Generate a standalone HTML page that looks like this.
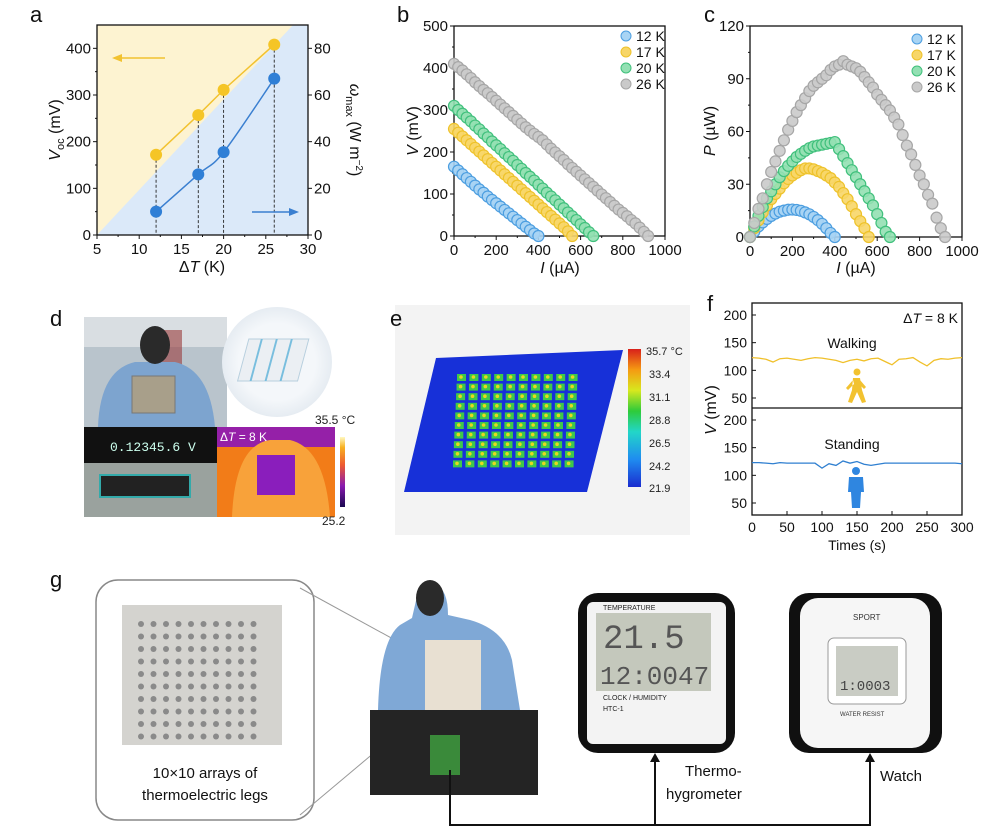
<!DOCTYPE html>
<html><head><meta charset="utf-8">
<style>
body{margin:0;background:#fff;}
svg{display:block;font-family:"Liberation Sans",sans-serif;}
</style></head>
<body>
<svg id="fig" width="1000" height="828" viewBox="0 0 1000 828" xmlns="http://www.w3.org/2000/svg">
<defs>
<linearGradient id="cbE" x1="0" y1="1" x2="0" y2="0">
<stop offset="0" stop-color="#1a2ccf"/><stop offset="0.2" stop-color="#1f8cf0"/><stop offset="0.4" stop-color="#22d6c8"/><stop offset="0.55" stop-color="#2ecb3a"/><stop offset="0.7" stop-color="#d8e81e"/><stop offset="0.85" stop-color="#f59a12"/><stop offset="1" stop-color="#d8201a"/>
</linearGradient>
<linearGradient id="cbD" x1="0" y1="1" x2="0" y2="0">
<stop offset="0" stop-color="#1a0850"/><stop offset="0.3" stop-color="#8a1ab0"/><stop offset="0.6" stop-color="#ee5a30"/><stop offset="0.85" stop-color="#f8b020"/><stop offset="1" stop-color="#fff8c0"/>
</linearGradient>
<radialGradient id="circ" cx="0.5" cy="0.5" r="0.5"><stop offset="0.7" stop-color="#f4f7fa"/><stop offset="1" stop-color="#e6ecf2"/></radialGradient>
</defs>

<g id="pa"></g>
<g id="pb"></g>
<g id="pc"></g>

<!-- panel d photo collage -->
<g>
<rect x="84" y="317" width="143" height="110" fill="#b9c4cc"/>
<rect x="84" y="317" width="143" height="30" fill="#d9dee2"/>
<rect x="160" y="330" width="22" height="60" fill="#9a3a3a" opacity="0.6"/>
<path d="M98 427 Q100 370 135 362 L175 362 Q210 370 215 427 Z" fill="#7da4cf"/>
<ellipse cx="155" cy="345" rx="15" ry="19" fill="#2a2a2a"/>
<rect x="132" y="376" width="43" height="37" fill="#a89f8a" stroke="#777" stroke-width="1"/>
<circle cx="277" cy="362" r="55" fill="url(#circ)"/>
<g transform="translate(277,357) skewX(-15)" opacity="0.8">
<rect x="-33" y="-18" width="60" height="42" fill="#e9eef2" stroke="#a9c6d8"/>
<line x1="-20" y1="-18" x2="-20" y2="24" stroke="#5ab0d8" stroke-width="2"/>
<line x1="-5" y1="-18" x2="-5" y2="24" stroke="#5ab0d8" stroke-width="2"/>
<line x1="10" y1="-18" x2="10" y2="24" stroke="#5ab0d8" stroke-width="2"/>
</g>
<rect x="84" y="427" width="133" height="36" fill="#111"/>
<text x="110" y="451" font-size="13" fill="#cfe" font-family="Liberation Mono,monospace">0.12345.6 V</text>
<rect x="84" y="463" width="133" height="54" fill="#9aa29e"/>
<rect x="100" y="475" width="90" height="22" fill="#222" stroke="#3aa" stroke-width="2"/>
<rect x="217" y="427" width="118" height="90" fill="#f27c18"/>
<rect x="217" y="427" width="118" height="20" fill="#9520a8"/>
<path d="M232 517 Q235 445 270 440 L290 440 Q325 448 330 517 Z" fill="#f8a23a"/>
<rect x="257" y="455" width="38" height="40" fill="#8a1ebc"/>
<text x="220" y="441" font-size="12" fill="#fff">Δ<tspan font-style="italic">T</tspan> = 8 K</text>
<rect x="340" y="437" width="5" height="70" fill="url(#cbD)"/>
<text x="315" y="424" font-size="12" fill="#222">35.5 °C</text>
<text x="322" y="525" font-size="12" fill="#222">25.2</text>
</g>

<!-- panel e simulation -->
<g>
<rect x="395" y="305" width="295" height="230" fill="#f3f3f3"/>
<polygon points="436,358 623,350 587,492 404,492" fill="#1730d8"/>
<g id="grid-e"></g>
<rect x="628" y="349" width="13" height="138" fill="url(#cbE)"/>
<g font-size="11" fill="#222">
<text x="646" y="355">35.7 °C</text><text x="649" y="378">33.4</text><text x="649" y="401">31.1</text><text x="649" y="424">28.8</text><text x="649" y="447">26.5</text><text x="649" y="470">24.2</text><text x="649" y="492">21.9</text>
</g>
</g>

<g id="pf"></g>

<!-- panel g -->
<g>
<rect x="96" y="580" width="218" height="240" rx="22" fill="#fff" stroke="#888" stroke-width="1.5"/>
<line x1="300" y1="588" x2="395" y2="640" stroke="#999"/>
<line x1="300" y1="815" x2="425" y2="710" stroke="#999"/>
<rect x="122" y="605" width="160" height="140" fill="#d4d3cf"/>
<g id="grid-g"></g>
<text x="205" y="778" font-size="15" text-anchor="middle" fill="#111">10×10 arrays of</text>
<text x="205" y="800" font-size="15" text-anchor="middle" fill="#111">thermoelectric legs</text>
<rect x="370" y="710" width="168" height="85" fill="#242424"/>
<path d="M378 710 Q380 640 400 625 L412 618 L418 592 L436 585 Q448 590 448 615 L470 620 Q505 630 512 660 L520 710 Z" fill="#7fa8d6"/>
<ellipse cx="430" cy="598" rx="14" ry="18" fill="#2a2a2a"/>
<rect x="425" y="640" width="56" height="70" fill="#e8e0d2"/>
<rect x="430" y="735" width="30" height="40" fill="#3a8a3a"/>
<rect x="578" y="593" width="157" height="160" rx="20" fill="#101010"/>
<rect x="587" y="602" width="139" height="142" rx="6" fill="#f3f3f3"/>
<rect x="596" y="613" width="115" height="78" fill="#c4c8bc"/>
<text x="603" y="648" font-size="34" fill="#555" font-family="Liberation Mono,monospace">21.5</text>
<text x="600" y="684" font-size="26" fill="#555" font-family="Liberation Mono,monospace">12:0047</text>
<text x="603" y="610" font-size="7" fill="#222">TEMPERATURE</text>
<text x="603" y="700" font-size="7" fill="#222">CLOCK / HUMIDITY</text>
<text x="603" y="711" font-size="7" fill="#222">HTC-1</text>
<rect x="789" y="593" width="153" height="160" rx="20" fill="#101010"/>
<rect x="800" y="598" width="130" height="150" rx="18" fill="#f6f6f6"/>
<rect x="828" y="638" width="78" height="66" rx="6" fill="#fff" stroke="#999"/>
<rect x="836" y="646" width="62" height="50" fill="#c9ccc4"/>
<text x="840" y="690" font-size="14" fill="#444" font-family="Liberation Mono,monospace">1:0003</text>
<text x="853" y="620" font-size="8" fill="#333">SPORT</text>
<text x="840" y="716" font-size="6" fill="#333">WATER RESIST</text>
<path d="M450 770 L450 825 L870 825 L870 756 M655 825 L655 756" fill="none" stroke="#111" stroke-width="2"/>
<path d="M650 762 L655 753 L660 762 Z M865 762 L870 753 L875 762 Z" fill="#111"/>
<text x="685" y="776" font-size="15" fill="#111">Thermo-</text>
<text x="666" y="799" font-size="15" fill="#111">hygrometer</text>
<text x="880" y="781" font-size="15" fill="#111">Watch</text>
</g>

<!-- panel labels (on top) -->
<g font-size="22" fill="#111">
<text x="30" y="22">a</text>
<text x="397" y="22">b</text>
<text x="704" y="22">c</text>
<text x="50" y="326">d</text>
<text x="390" y="326">e</text>
<text x="707" y="311">f</text>
<text x="50" y="587">g</text>
</g>

</svg>
<script>
// ---------- data ----------
const dT = [12, 17, 20, 26];
const vocA = [172, 257, 311, 408];
const omegaA = [10, 26, 35.5, 67];

const ivStep = 20;
const v12 = [165,156,147,138,129,120,111,103,94,86,78,70,62,54,46,38,30,22,14,6,0];
const v17 = [255,246,237,228,219,210,201,192,183,174,165,156,147,138,129,120,111,102,93,84,75,66,57,48,39,30,21,11,0];
const v20 = [310,300,291,282,273,263,254,244,235,225,216,207,197,188,179,169,160,150,141,132,122,113,103,94,85,75,66,56,47,38,28,19,9,0];
const v26 = [410,402,394,385,376,366,357,348,340,331,322,313,304,295,286,277,268,259,251,243,236,228,218,208,199,190,181,171,162,153,144,135,126,117,108,99,90,81,72,63,55,47,38,30,20,10,0];
const p12 = [0,3,6,8.3,10.3,12,13.3,14.4,15,15.5,15.6,15.4,14.9,14,12.9,11.4,9.6,7.5,5,2.3,0];
const p17 = [0,5,9.5,14,18,21.5,24.5,27.5,30.5,33,35,36.5,38,39,39,38.5,37.5,36.5,35,33.5,31,28.5,25,21.5,17.5,13,9,5,0];
const p20 = [0,6,12,17,22,26,30,34,37.5,40.5,43,45.5,47.3,49,50.5,51.5,52,52.5,53,53.5,54,50,46,42,38,34,30,26,22,18,13,8,3,0];
const p26 = [0,8,16,22,30,37,43,49,55,61,66,71,75,79,83,86,88,90,92,95,97,98,100,98,97,96,94,91,88,85,81,78,75,72,68,64,58,52,47,41,35,30,24,19,11,5,0];
const legendLabels = ['12 K','17 K','20 K','26 K'];

const fStep = 10;
const walking = [123,122,120,115,121,122,120,118,121,123,122,120,118,114,118,120,117,121,122,116,110,120,121,123,115,108,118,121,120,122,123];
const standing = [123,123,122,121,123,122,122,122,122,122,113,121,118,126,122,125,120,118,120,122,122,122,122,122,122,122,122,122,122,122,121];

const NS = 'http://www.w3.org/2000/svg';
function mk(parent, tag, attrs, txt){
  const e = document.createElementNS(NS, tag);
  for (const k in attrs) e.setAttribute(k, attrs[k]);
  if (txt !== undefined) e.textContent = txt;
  parent.appendChild(e);
  return e;
}
function lin(d0,d1,r0,r1){return v=>r0+(v-d0)*(r1-r0)/(d1-d0);}

const fills = ['#a8d4f4','#f7d668','#93e0b3','#cacaca'];
const strokes = ['#4c9ee0','#eec22a','#40c07c','#a6a6a6'];

function axesFrame(g, x0,x1,y0,y1, xticks, xsc, yticks, ysc, minorX, minorY){
  const f = mk(g,'rect',{x:x0,y:y1,width:x1-x0,height:y0-y1,fill:'none',stroke:'#111','stroke-width':1.3});
  
  
  xticks.forEach(t=>{
    const x=xsc(t);
    mk(g,'line',{x1:x,x2:x,y1:y0,y2:y0+4,stroke:'#111'});
    const tl = mk(g,'text',{x:x,y:y0+19,'font-size':15,'text-anchor':'middle',fill:'#111'},t);
    
    
  });
  yticks.forEach(t=>{
    const y=ysc(t);
    mk(g,'line',{x1:x0,x2:x0-4,y1:y,y2:y,stroke:'#111'});
    const tl = mk(g,'text',{x:x0-6,y:y+5,'font-size':15,'text-anchor':'end',fill:'#111'},t);
    
    
  });
  (minorX||[]).forEach(t=>{const x=xsc(t);mk(g,'line',{x1:x,x2:x,y1:y0,y2:y0+2,stroke:'#111'});});
  (minorY||[]).forEach(t=>{const y=ysc(t);mk(g,'line',{x1:x0,x2:x0-2,y1:y,y2:y,stroke:'#111'});});
}

// ---------- panel a ----------
(function(){
  const g=document.getElementById('pa');
  const x0=97,x1=308,y0=235,y1=25;
  const xs=lin(5,30,x0,x1), ys=lin(0,450,y0,y1), ys2=lin(0,90,y0,y1);
  const bgY=mk(g,'rect',{x:x0,y:y1,width:x1-x0,height:y0-y1,fill:'#fdf3d1'});
  
  
  const bgB=mk(g,'polygon',{points:`${x0},${y0} ${x0+196},${y1} ${x1},${y1} ${x1},${y0}`,fill:'#dbe9f9'});
  
  
  axesFrame(g,x0,x1,y0,y1,[5,10,15,20,25,30],xs,[0,100,200,300,400],ys,[7.5,12.5,17.5,22.5,27.5],[50,150,250,350]);
  [0,20,40,60,80].forEach(t=>{const y=ys2(t);mk(g,'line',{x1:x1,x2:x1+4,y1:y,y2:y,stroke:'#111'});
    const tl=mk(g,'text',{x:x1+6,y:y+5,'font-size':15,fill:'#111'},t);
    
    });
  dT.forEach((t,i)=>{mk(g,'line',{x1:xs(t),x2:xs(t),y1:ys(vocA[i]),y2:y0,stroke:'#222','stroke-dasharray':'3,2','stroke-width':0.9});});
  const pl=mk(g,'polyline',{points:dT.map((t,i)=>xs(t)+','+ys(vocA[i])).join(' '),fill:'none',stroke:'#f2c230','stroke-width':1.5});
  
  
  const pts=dT.map((t,i)=>[xs(t),ys2(omegaA[i])]);
  let d='M'+pts[0].join(',');
  for(let i=0;i<pts.length-1;i++){
    const p0=pts[Math.max(0,i-1)],p1=pts[i],p2=pts[i+1],p3=pts[Math.min(pts.length-1,i+2)];
    d+=` C${p1[0]+(p2[0]-p0[0])/6},${p1[1]+(p2[1]-p0[1])/6} ${p2[0]-(p3[0]-p1[0])/6},${p2[1]-(p3[1]-p1[1])/6} ${p2[0]},${p2[1]}`;
  }
  const oc=mk(g,'path',{d:d,fill:'none',stroke:'#3a7fd0','stroke-width':1.5});
  
  
  dT.forEach((t,i)=>{
    const c=mk(g,'circle',{cx:xs(t),cy:ys(vocA[i]),r:6,fill:'#f5c526'});
    
    
    const c2=mk(g,'circle',{cx:xs(t),cy:ys2(omegaA[i]),r:6,fill:'#2f7fd6'});
    
    
  });
  mk(g,'line',{x1:114,x2:165,y1:58,y2:58,stroke:'#f2c230','stroke-width':1.5});
  mk(g,'path',{d:'M112 58 L122 54 L122 62 Z',fill:'#f2c230'});
  mk(g,'line',{x1:252,x2:296,y1:212,y2:212,stroke:'#3a7fd0','stroke-width':1.5});
  mk(g,'path',{d:'M299 212 L289 208 L289 216 Z',fill:'#3a7fd0'});
  const xt=mk(g,'text',{x:202,y:272,'font-size':16,'text-anchor':'middle',fill:'#111'});
  xt.innerHTML='Δ<tspan font-style="italic">T</tspan> (K)';
  
  
  const yt=mk(g,'text',{transform:'translate(60,130) rotate(-90)','font-size':16,'text-anchor':'middle',fill:'#111'});
  yt.innerHTML='<tspan font-style="italic">V</tspan><tspan font-size="11" dy="4">oc</tspan><tspan dy="-4"> (mV)</tspan>';
  
  
  const yt2=mk(g,'text',{transform:'translate(350,130) rotate(90)','font-size':16,'text-anchor':'middle',fill:'#111'});
  yt2.innerHTML='<tspan font-style="italic">ω</tspan><tspan font-size="11" dy="4">max</tspan><tspan dy="-4"> (W m</tspan><tspan font-size="10" dy="-6">−2</tspan><tspan dy="6">)</tspan>';
  
  
})();

function legend(g,x,y){
  legendLabels.forEach((l,i)=>{
    const c=mk(g,'circle',{cx:x,cy:y+i*16,r:5,fill:fills[i],stroke:strokes[i]});
    
    
    const t=mk(g,'text',{x:x+10,y:y+i*16+5,'font-size':14,fill:'#111'},l);
    
    
  });
}
function scatter(g,series,xs,ys,name){
  series.forEach((arr,si)=>{
    arr.forEach((v,i)=>{
      const c=mk(g,'circle',{cx:xs(i*ivStep),cy:ys(v),r:5.5,fill:fills[si],stroke:strokes[si],'stroke-width':1.2,'fill-opacity':0.9});
      
      
    });
  });
}

// ---------- panel b ----------
(function(){
  const g=document.getElementById('pb');
  const x0=454,x1=665,y0=236,y1=26;
  const xs=lin(0,1000,x0,x1), ys=lin(0,500,y0,y1);
  axesFrame(g,x0,x1,y0,y1,[0,200,400,600,800,1000],xs,[0,100,200,300,400,500],ys,[100,300,500,700,900],[50,150,250,350,450]);
  scatter(g,[v12,v17,v20,v26],xs,ys,'iv-point');
  legend(g,626,36);
  const xt=mk(g,'text',{x:560,y:273,'font-size':16,'text-anchor':'middle',fill:'#111'});
  xt.innerHTML='<tspan font-style="italic">I</tspan> (µA)';
  
  
  const yt=mk(g,'text',{transform:'translate(418,131) rotate(-90)','font-size':16,'text-anchor':'middle',fill:'#111'});
  yt.innerHTML='<tspan font-style="italic">V</tspan> (mV)';
  
  
})();

// ---------- panel c ----------
(function(){
  const g=document.getElementById('pc');
  const x0=750,x1=962,y0=237,y1=26;
  const xs=lin(0,1000,x0,x1), ys=lin(0,120,y0,y1);
  axesFrame(g,x0,x1,y0,y1,[0,200,400,600,800,1000],xs,[0,30,60,90,120],ys,[100,300,500,700,900],[15,45,75,105]);
  scatter(g,[p12,p17,p20,p26],xs,ys,'power-point');
  legend(g,917,39);
  const xt=mk(g,'text',{x:856,y:273,'font-size':16,'text-anchor':'middle',fill:'#111'});
  xt.innerHTML='<tspan font-style="italic">I</tspan> (µA)';
  
  
  const yt=mk(g,'text',{transform:'translate(715,131) rotate(-90)','font-size':16,'text-anchor':'middle',fill:'#111'});
  yt.innerHTML='<tspan font-style="italic">P</tspan> (µW)';
  
  
})();

// ---------- panel f ----------
(function(){
  const g=document.getElementById('pf');
  const x0=752,x1=962,yTop=303,yMid=408,yBot=515;
  const xs=lin(0,300,x0,x1);
  const ysU=lin(50,200,398,315), ysL=lin(50,200,503,420);
  const fr=mk(g,'rect',{x:x0,y:yTop,width:x1-x0,height:yBot-yTop,fill:'none',stroke:'#111','stroke-width':1.3});
  
  
  mk(g,'line',{x1:x0,x2:x1,y1:yMid,y2:yMid,stroke:'#111','stroke-width':1.3});
  [0,50,100,150,200,250,300].forEach(t=>{const x=xs(t);mk(g,'line',{x1:x,x2:x,y1:yBot,y2:yBot-4,stroke:'#111'});
    const tl=mk(g,'text',{x:x,y:yBot+17,'font-size':14,'text-anchor':'middle',fill:'#111'},t);
    
    });
  [ysU,ysL].forEach(ys=>{
    [50,100,150,200].forEach(t=>{const y=ys(t);mk(g,'line',{x1:x0,x2:x0+4,y1:y,y2:y,stroke:'#111'});
      const tl=mk(g,'text',{x:x0-5,y:y+5,'font-size':14,'text-anchor':'end',fill:'#111'},t);
      
      });
  });
  const lw=mk(g,'polyline',{points:walking.map((v,i)=>xs(i*fStep)+','+ysU(v)).join(' '),fill:'none',stroke:'#f0c02a','stroke-width':1.3});
  
  
  const ls=mk(g,'polyline',{points:standing.map((v,i)=>xs(i*fStep)+','+ysL(v)).join(' '),fill:'none',stroke:'#2f7fd0','stroke-width':1.3});
  
  
  const t1=mk(g,'text',{x:852,y:348,'font-size':14,'text-anchor':'middle',fill:'#111'},'Walking');
  
  
  const t2=mk(g,'text',{x:852,y:449,'font-size':14,'text-anchor':'middle',fill:'#111'},'Standing');
  
  
  const t3=mk(g,'text',{x:958,y:323,'font-size':14,'text-anchor':'end',fill:'#111'});
  t3.innerHTML='Δ<tspan font-style="italic">T</tspan> = 8 K';
  
  
  const w=mk(g,'g',{fill:'#f2c230'});
  
  
  mk(w,'circle',{cx:857,cy:372,r:3.5});
  mk(w,'path',{d:'M853 378 L860 378 L862 390 L866 402 L862 403 L857 392 L852 403 L848 402 L852 390 Z M853 380 L846 388 L848 390 L854 384 Z M860 380 L866 387 L864 389 L859 384 Z'});
  const s=mk(g,'g',{fill:'#2f86e0'});
  
  
  mk(s,'circle',{cx:856,cy:471,r:4});
  mk(s,'path',{d:'M849 477 L863 477 L864 492 L861 492 L860 508 L856 508 L856 495 L856 508 L852 508 L851 492 L848 492 Z'});
  const yt=mk(g,'text',{transform:'translate(716,410) rotate(-90)','font-size':16,'text-anchor':'middle',fill:'#111'});
  yt.innerHTML='<tspan font-style="italic">V</tspan> (mV)';
  
  
  const xt=mk(g,'text',{x:857,y:550,'font-size':14,'text-anchor':'middle',fill:'#111'},'Times (s)');
  
  
})();

// grids of dots (decoration)
(function(){
  const ge=document.getElementById('grid-e');
  for(let r=0;r<10;r++)for(let c=0;c<10;c++){
    const fy=r/9, x=461+c*12.4-fy*4, y=377+r*9.6;
    mk(ge,'rect',{x:x-4,y:y-3,width:9,height:7,fill:'#3ec84a'});
    mk(ge,'circle',{cx:x,cy:y,r:1.8,fill:'#e8d820'});
  }
  const gg=document.getElementById('grid-g');
  for(let r=0;r<10;r++)for(let c=0;c<10;c++){
    mk(gg,'circle',{cx:141+c*12.5,cy:624+r*12.5,r:3,fill:'#8a8a8a'});
  }
})();
</script>
</body></html>
